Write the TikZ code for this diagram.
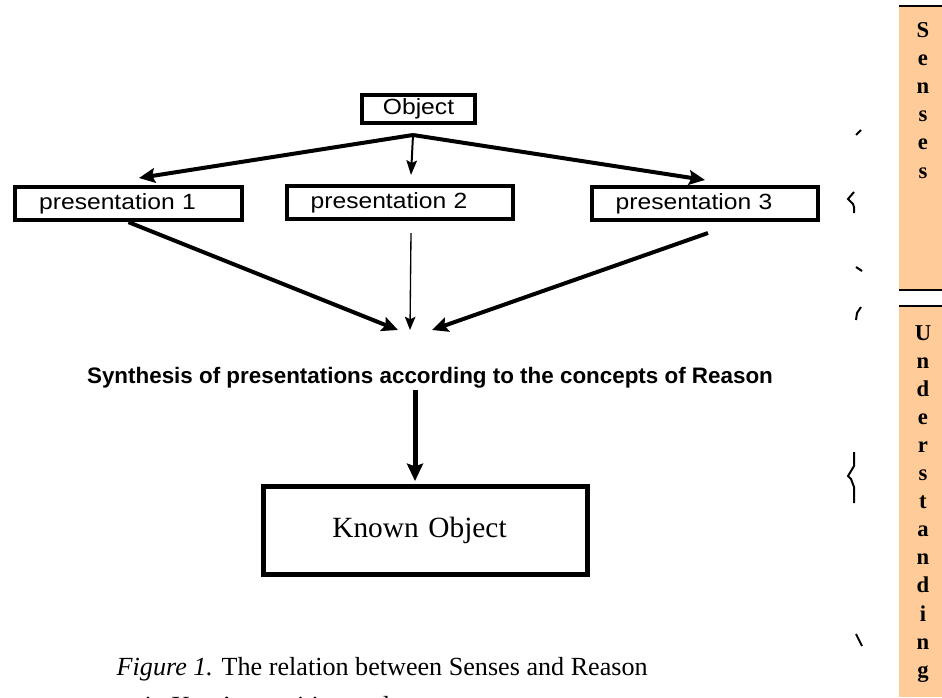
\documentclass[tikz,border=0pt]{standalone}
\usepackage{fontspec}
\setmainfont{Liberation Serif}
\newfontfamily\boxfont[FakeStretch=1.12]{Liberation Sans}
\newfontfamily\synthfont{Liberation Sans}
\usepackage{tikz}
\usetikzlibrary{positioning}
\usetikzlibrary{arrows.meta}
\definecolor{sensecolor}{HTML}{FFCC99}
\tikzset{
    kant diagram/.style={
            x=0.75pt,y=-0.75pt,
            presbox/.style={draw,line width=3pt,minimum height=25pt,
                text width=134pt,inner xsep=18pt,align=left,
                font=\boxfont\fontsize{16.5}{18}\selectfont},
            objbox/.style={draw,line width=2.6pt,minimum width=85pt,minimum height=21pt,
                inner sep=0pt,font=\boxfont\fontsize{16.5}{18}\selectfont},
            knownbox/.style={draw,line width=3.75pt,minimum height=66pt,
                text width=139pt,inner xsep=52pt,align=left,
                font=\fontsize{22}{26}\selectfont},
            heavy arrow/.style={line width=3pt,-{Stealth[length=12pt,width=11pt,inset=2pt]}},
            light arrow/.style={line width=1.5pt,-{Stealth[length=11pt,width=8pt,inset=2pt]}},
            thin arrow/.style={line width=1pt,-{Stealth[length=10pt,width=8pt,inset=2pt]}},
            main arrow/.style={line width=3.75pt,-{Stealth[length=13pt,width=12pt,inset=2pt]}},
            brace bit/.style={line width=1.5pt},
            barletter/.style={anchor=base,font=\bfseries\fontsize{17}{20}\selectfont},
            captext/.style={anchor=base west,font=\fontsize{19.6}{22}\selectfont}
        }
    }
\begin{document}
\begin{tikzpicture}[kant diagram]
    \useasboundingbox (0,0) rectangle (942,697);
    \clip (0,0) rectangle (942,697);

    % boxes
    \node[objbox] (obj) at (418.5,109) {Object};
    \node[presbox] (pres1) at (128.5,203.5) {presentation 1};
    \node[presbox] (pres2) at (400,202.5) {presentation 2};
    \node[presbox] (pres3) at (705,203.5) {presentation 3};
    \node[anchor=base,font=\synthfont\bfseries\fontsize{16.8}{20}\selectfont] (synth) at (430,383)
        {Synthesis of presentations according to the concepts of Reason};
    \node[knownbox] (known) at (425,530.5) {Known Object};

    % arrows
    \coordinate (apex) at (413,135);
    \coordinate (tip1) at (139,178);
    \coordinate (tip2) at (411,175);
    \coordinate (tip3) at (705,180);
    \draw[heavy arrow] (apex) -- (tip1);
    \draw[light arrow] (apex) -- (tip2);
    \draw[heavy arrow] (apex) -- (tip3);

    \coordinate (from2) at (411,233);
    \coordinate (from3) at (708,233);
    \coordinate (in1) at (398,330);
    \coordinate (in2) at (410,330);
    \coordinate (in3) at (432,330);
    \draw[heavy arrow] (pres1.south) -- (in1);
    \draw[thin arrow] (from2) -- (in2);
    \draw[heavy arrow] (from3) -- (in3);

    \coordinate (down) at (415,390);
    \coordinate (downtip) at (415,481);
    \draw[main arrow] (down) -- (downtip);

    % caption
    \node[captext] (cap1) at (112,675)
        {\textit{Figure 1.} The relation between Senses and Reason};
    \node[captext] (cap2) at (140,714)
        {in Kant's cognition and};

    % side bars
    \fill[sensecolor] (899,7) rectangle (942,289);
    \fill[sensecolor] (899,307) rectangle (942,697);
    \draw[line width=1.5pt] (899,6) -- (942,6);
    \draw[line width=2.2pt] (899,290) -- (942,290);
    \draw[line width=1.5pt] (899,306) -- (942,306);
    \foreach \ch [count=\k from 0] in {S,e,n,s,e,s}
        \node[barletter] at (923,37+28.2*\k) {\ch};
    \foreach \ch [count=\k from 0] in {U,n,d,e,r,s,t,a,n,d,i,n,g}
        \node[barletter] at (923,340+28.1*\k) {\ch};

    % brace fragments
    \draw[brace bit] (856,135) -- (861,130);
    \draw[brace bit] (854,192) -- (848,199) -- (853,204) -- (854,207) -- (854,213);
    \draw[brace bit] (856,267) -- (862,271);
    \draw[brace bit] (856,320) -- (857,313) -- (861,307);
    \draw[brace bit] (854,452) -- (854,466) -- (848,476) -- (851,479) -- (854,487) -- (854,503);
    \draw[brace bit] (856,634) -- (862,646);
\end{tikzpicture}
\end{document}
